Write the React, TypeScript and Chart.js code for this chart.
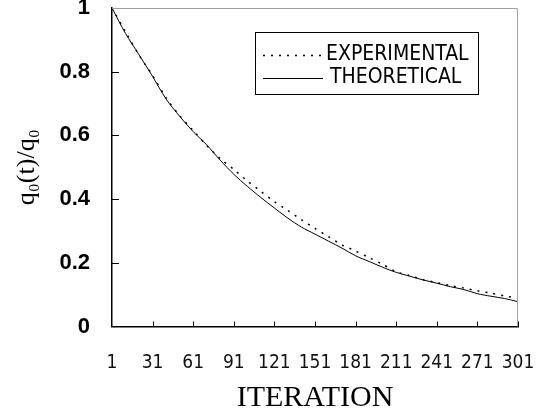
import React, { useEffect, useRef } from "react";
import { Chart, registerables } from "chart.js";

Chart.register(...registerables);

const ITERATIONS = [1, 11, 21, 31, 41, 51, 61, 71, 81, 91, 101, 111, 121, 131, 141, 151, 161, 171, 181, 191, 201, 211, 221, 231, 241, 251, 261, 271, 281, 291, 301];
const EXPERIMENTAL = [1.0, 0.925, 0.852, 0.788, 0.718, 0.662, 0.615, 0.568, 0.527, 0.493, 0.457, 0.424, 0.392, 0.364, 0.335, 0.308, 0.282, 0.256, 0.237, 0.216, 0.195, 0.172, 0.16, 0.147, 0.138, 0.128, 0.121, 0.112, 0.105, 0.096, 0.089];
const THEORETICAL = [1.0, 0.92, 0.853, 0.785, 0.714, 0.66, 0.612, 0.57, 0.522, 0.478, 0.44, 0.405, 0.372, 0.34, 0.312, 0.29, 0.268, 0.246, 0.222, 0.204, 0.186, 0.17, 0.158, 0.146, 0.136, 0.125, 0.116, 0.103, 0.095, 0.088, 0.078];
const X_TICKS = [1, 31, 61, 91, 121, 151, 181, 211, 241, 271, 301];
const Y_TICKS = [0, 0.2, 0.4, 0.6, 0.8, 1];
const SERIES_LABELS = ["EXPERIMENTAL", "THEORETICAL"];

const NARROW = "'Liberation Sans Narrow', 'DejaVu Sans Condensed', 'Liberation Sans', sans-serif";

const decorPlugin = {
  id: "decor",
  afterDraw(chart: any) {
    const { ctx, chartArea } = chart;
    const { left, right, top, bottom } = chartArea;
    const xs = chart.scales.x;
    const ys = chart.scales.y;
    ctx.save();
    ctx.strokeStyle = "#a0a0a0";
    ctx.lineWidth = 1;
    ctx.beginPath();
    ctx.moveTo(left, top + 0.5);
    ctx.lineTo(right - 0.5, top + 0.5);
    ctx.lineTo(right - 0.5, bottom);
    ctx.stroke();
    ctx.strokeStyle = "#000";
    ctx.lineWidth = 1;
    ctx.beginPath();
    Y_TICKS.forEach((v) => {
      if (v === 0 || v === 1) return;
      const y = Math.round(ys.getPixelForValue(v)) + 0.5;
      ctx.moveTo(left, y);
      ctx.lineTo(left + 7, y);
    });
    X_TICKS.forEach((v, i) => {
      if (i === 0) return;
      const x = Math.round(xs.getPixelForValue(v)) + 0.5;
      ctx.moveTo(x, bottom);
      ctx.lineTo(x, bottom - 5);
    });
    ctx.stroke();
    const bx = 255, by = 32, bw = 223, bh = 62;
    ctx.lineWidth = 1;
    ctx.strokeRect(bx + 0.5, by + 0.5, bw, bh);
    const rows = [55, 78];
    chart.data.datasets.forEach((ds: any, i: number) => {
      const y = rows[i] + 0.5;
      ctx.beginPath();
      ctx.setLineDash(ds.borderDash || []);
      ctx.lineWidth = ds.borderWidth;
      ctx.strokeStyle = ds.borderColor;
      ctx.moveTo(263, y);
      ctx.lineTo(323, y);
      ctx.stroke();
      ctx.setLineDash([]);
      ctx.fillStyle = "#000";
      ctx.font = "21px " + NARROW;
      ctx.textBaseline = "middle";
      ctx.textAlign = "left";
      ctx.fillText(ds.label, i === 0 ? 326 : 330, rows[i]);
    });
    ctx.restore();
  },
};

export default function App() {
  const ref = useRef<HTMLCanvasElement | null>(null);
  useEffect(() => {
    if (!ref.current) return;
    const chart = new Chart(ref.current, {
      type: "line",
      data: {
        datasets: [
          {
            label: SERIES_LABELS[0],
            data: ITERATIONS.map((x, i) => ({ x, y: EXPERIMENTAL[i] })),
            borderColor: "#000",
            borderWidth: 1.5,
            borderDash: [2, 6],
            pointRadius: 0,
            tension: 0.3,
            fill: false,
          },
          {
            label: SERIES_LABELS[1],
            data: ITERATIONS.map((x, i) => ({ x, y: THEORETICAL[i] })),
            borderColor: "#000",
            borderWidth: 1,
            pointRadius: 0,
            tension: 0.3,
            fill: false,
          },
        ],
      },
      options: {
        animation: false,
        responsive: false,
        maintainAspectRatio: false,
        layout: { padding: { left: 0, right: 22, top: 8, bottom: 0 } },
        plugins: { legend: { display: false }, tooltip: { enabled: false } },
        scales: {
          x: {
            type: "linear",
            min: 1,
            max: 301,
            afterBuildTicks: (s: any) => {
              s.ticks = X_TICKS.map((v) => ({ value: v }));
            },
            afterFit: (s: any) => {
              s.height = 92.5;
              s.paddingLeft = 0;
              s.paddingRight = 0;
            },
            grid: { display: true, drawOnChartArea: false, drawTicks: false },
            border: { display: true, color: "#000", width: 1.5 },
            ticks: {
              padding: 25,
              color: "#111",
              maxRotation: 0,
              autoSkip: false,
              font: { family: NARROW, size: 19 },
              callback: (v: any) => String(v),
            },
            title: {
              display: true,
              text: "ITERATION",
              color: "#000",
              font: { family: "'Liberation Serif', 'Times New Roman', serif", size: 30 },
              padding: { top: 0, bottom: 3 },
            },
          },
          y: {
            min: 0,
            max: 1,
            afterBuildTicks: (s: any) => {
              s.ticks = Y_TICKS.map((v) => ({ value: v }));
            },
            afterFit: (s: any) => {
              s.width = 112;
              s.paddingTop = 0;
              s.paddingBottom = 0;
            },
            grid: { display: true, drawOnChartArea: false, drawTicks: false },
            border: { display: true, color: "#000", width: 1.5 },
            ticks: {
              padding: 22,
              color: "#000",
              font: { family: "'Liberation Sans', Arial, sans-serif", size: 22, weight: "bold" },
              callback: (v: any) => String(v),
            },
            title: {
              display: true,
              text: "q₀(t)/q₀",
              color: "#000",
              font: { family: "'Liberation Serif', 'DejaVu Serif', serif", size: 26 },
              padding: { top: 12, bottom: 0 },
            },
          },
        },
      },
      plugins: [decorPlugin],
    } as any);
    return () => chart.destroy();
  }, []);
  return (
    <div style={{ position: "fixed", left: 0, top: 0, width: 540, height: 419, background: "#fff" }}>
      <canvas ref={ref} width={540} height={419} style={{ width: 540, height: 419, display: "block" }} />
    </div>
  );
}
